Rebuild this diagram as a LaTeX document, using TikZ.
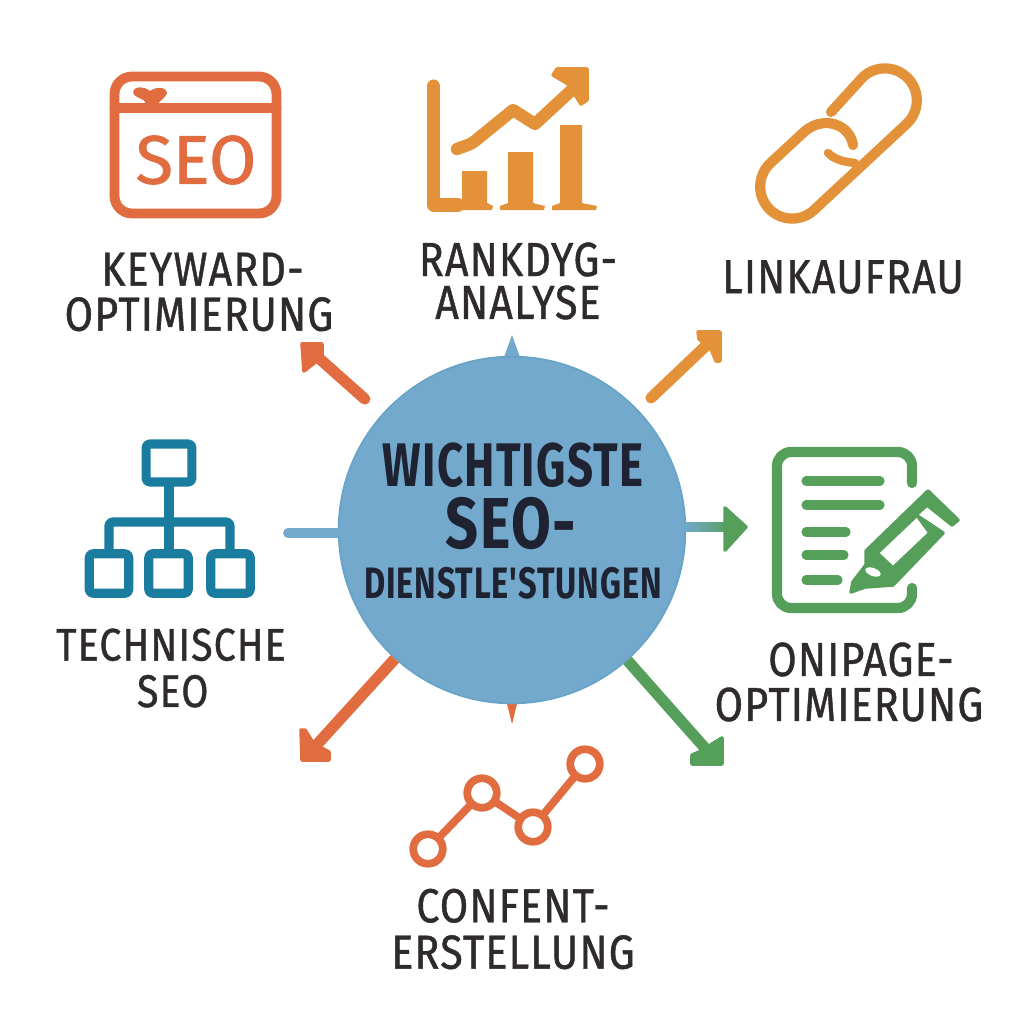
\documentclass[tikz,border=0pt]{standalone}
\usepackage{fontspec}
\setmainfont[FakeBold=1.2]{Fira Sans}
\newfontfamily\labelfont[FakeStretch=0.86,LetterSpace=2.5,FakeBold=0.9]{Fira Sans}
\newfontfamily\hubfont[FakeStretch=0.74,LetterSpace=2]{Fira Sans}
\newfontfamily\seofont[FakeStretch=0.80,LetterSpace=2]{Fira Sans}
\definecolor{hubblue}{HTML}{72A9CC}
\definecolor{redorange}{HTML}{E06C40}
\definecolor{amber}{HTML}{E3923A}
\definecolor{leaf}{HTML}{559F5B}
\definecolor{teal}{HTML}{1A7C9F}
\definecolor{ink}{HTML}{2F2B2C}
\definecolor{hubink}{HTML}{1F2230}
\tikzset{
  lbl/.style={align=center, text=ink, inner sep=0pt, font=\labelfont\fontsize{13.6}{12.2}\selectfont},
  dot/.style={circle, draw=redorange, fill=white, line width=2.2pt, minimum size=8.4pt, inner sep=0pt},
  arrowline/.style={line width=3.2pt, line cap=round},
  treebox/.style={draw, minimum size=11.2pt, inner sep=0pt, rounded corners=1pt}
}
\begin{document}
\begin{tikzpicture}[x=0.01cm, y=-0.01cm, line join=round, line cap=round, >=stealth]
	\useasboundingbox (0,0) rectangle (1024,1024);
	% free ends of the connectors
	\coordinate (tipKeyword) at (312,352);
	\coordinate (tipLink) at (712,340);
	\coordinate (tipContent) at (712,756);
	\coordinate (tipTech) at (312,750);
	\coordinate (endSeo) at (288,533);
	% spikes behind the circle
	\fill[hubblue] (503,360)--(512,335)--(521,360);
	\fill[redorange] (506,700)--(512,724)--(518,700);
	\node[circle, fill=hubblue, draw=hubblue!90!teal, line width=0.5pt, minimum size=98.6pt, inner sep=0pt] (hub) at (512,530) {};
	\node[text=hubink, inner sep=0pt, font=\hubfont\bfseries\fontsize{17.5}{20}\selectfont] (hubA) at (513,465) {WICHTIGSTE};
	\node[text=hubink, inner sep=0pt, font=\seofont\bfseries\fontsize{20.5}{20}\selectfont] (hubB) at (511,524) {SEO-};
	\node[text=hubink, inner sep=0pt, font=\hubfont\bfseries\fontsize{12.5}{20}\selectfont] (hubC) at (513,583) {DIENSTLE'STUNGEN};
	% connectors
	\draw[arrowline, redorange, shorten <=6.5pt] (hub) -- (tipKeyword);
	\fill[redorange, draw=redorange, line width=1pt] (302,344)--(322,344)--(322,357)--(304,371)--cycle;
	\draw[arrowline, amber, shorten <=5pt] (hub) -- (tipLink);
	\fill[amber, draw=amber, line width=1pt] (698,332)--(720,332)--(720,361)--(716,361)--(711,349)--(699,339)--cycle;
	\draw[arrowline, redorange, line cap=butt] (hub) -- (tipTech);
	\fill[redorange, draw=redorange, line width=1pt] (301,730)--(302,760)--(329,760)--(329,752)--(318,746)--(312,741)--(305,730)--cycle;
	\draw[arrowline, leaf, line cap=butt] (hub) -- (tipContent);
	\fill[leaf, draw=leaf, line width=1pt] (722,738)--(722,764)--(692,764)--(692,755)--(704,750)--(712,744)--cycle;
	\shade[left color=hubblue, right color=leaf] (685,522.5) rectangle (730,531.5);
	\fill[leaf, draw=leaf, line width=1pt] (725,508)--(746,527)--(725,550)--cycle;
	\draw[arrowline, hubblue, line width=2.8pt] (endSeo) -- (endSeo -| hub.west);
	% keyword window
	\draw[redorange, line width=2.8pt, rounded corners=5pt] (114.5,76.5) rectangle (276.5,213.5);
	\draw[redorange, line width=2.8pt] (114.5,108) -- (276.5,108);
	\fill[redorange] (133,92) .. controls (135,85) and (146,87) .. (150,91) .. controls (155,87) and (166,86) .. (167,93) .. controls (166,98) and (160,100) .. (158,104) -- (146,104) .. controls (146,98) and (134,99) .. (133,92) -- cycle;
	\node[text=redorange, inner sep=0pt, font=\fontsize{19.5}{20}\selectfont] (seoIcon) at (196,160) {SEO};
	\node[lbl] (keyword) at (199,292) {\hspace*{2pt}KEYWARD-\\[0.6pt]OPTIMIERUNG};
	% ranking chart
	\begin{scope}[amber]
		\draw[line width=3.7pt] (433.5,86) -- (433.5,205) -- (458,205);
		\fill (462,205) -- (462,171) -- (487,171) -- (487,203) -- (493,206) -- (492,210) -- (452,210) -- cycle;
		\fill (508,203) -- (508,152) -- (533,152) -- (533,203) -- (545,206) -- (544,210) -- (500,210) -- (500,206) -- cycle;
		\fill (560,203) -- (560,125) -- (582,125) -- (582,203) -- (597,206) -- (596,210) -- (552,210) -- (552,206) -- cycle;
		\draw[line width=3.5pt] (457,149) .. controls (464,146) and (468,146) .. (475,141) -- (513,110) -- (535,124) -- (575,87);
		\fill[draw=amber, line width=1pt] (553,75) -- (557,69) -- (587,69) -- (587,100) -- (581,104) -- (568,84) -- cycle;
	\end{scope}
	\node[lbl] (ranking) at (518,281) {RANKDYG-\\ANALYSE};
	% chain link
	\draw[amber, line width=2.9pt] (831,112) -- (863,77) arc[start angle=-133, end angle=47, radius=32] -- (814,210) arc[start angle=47, end angle=227, radius=32] -- (805,131) .. controls (825,115) and (850,125) .. (853,145);
	\draw[amber, line width=2.4pt] (828,153) .. controls (835,160) and (845,162) .. (855,163);
	\node[lbl] (link) at (843,277) {LINKAUFRAU};
	% page with pen
	\begin{scope}[leaf]
		\draw[line width=2.9pt, rounded corners=4pt] (912,483) -- (912,452) -- (777,452) -- (777,608) -- (912,608) -- (912,588);
		\draw[line width=2.6pt] (806,481) -- (880,481) (806,505) -- (880,505) (806,532) -- (846,532) (806,555) -- (844,555) (806,580) -- (838,580);
		\filldraw[line width=1pt, even odd rule, fill=leaf] (866,551) -- (928,491) -- (958,520) -- (952,525) -- (927,505) -- (916,515) -- (943,533) -- (893,585) -- (865,587) -- (851,592) -- (853,582) -- (866,565) -- cycle
			(877,553) -- (917,515) -- (930,533) -- (893,568) -- cycle;
		\fill[white, rotate around={-20:(873,572)}] (873,572) ellipse (8 and 4);
	\end{scope}
	\node[lbl] (onpage) at (849,682) {\hspace*{6.8pt}ONIPAGE-\\[0.6pt]OPTIMIERUNG};
	% site tree
	\begin{scope}[teal, line width=2.6pt]
		\draw (169,486) -- (169,550);
		\draw[rounded corners=1pt] (109,550) -- (109,522) -- (230,522) -- (230,550);
		\node[treebox, minimum width=13pt, minimum height=10.8pt] (treeTop) at (169,463) {};
		\node[treebox] (treeA) at (109,573.5) {};
		\node[treebox] (treeB) at (168.5,573.5) {};
		\node[treebox] (treeC) at (230.5,573.5) {};
	\end{scope}
	\node[lbl, font=\labelfont\fontsize{13}{12.2}\selectfont] (tech) at (171,668) {TECHNISCHE\\[1pt]\hspace*{1pt}SEO};
	% content trend
	\node[dot] (p1) at (428,849) {};
	\node[dot] (p2) at (482,793) {};
	\node[dot] (p3) at (533,827) {};
	\node[dot] (p4) at (585,764) {};
	\draw[redorange, line width=2.2pt] (p1)--(p2)--(p3)--(p4);
	\node[lbl] (content) at (513,929) {CONFENT-\\[1pt]ERSTELLUNG};
\end{tikzpicture}
\end{document}
